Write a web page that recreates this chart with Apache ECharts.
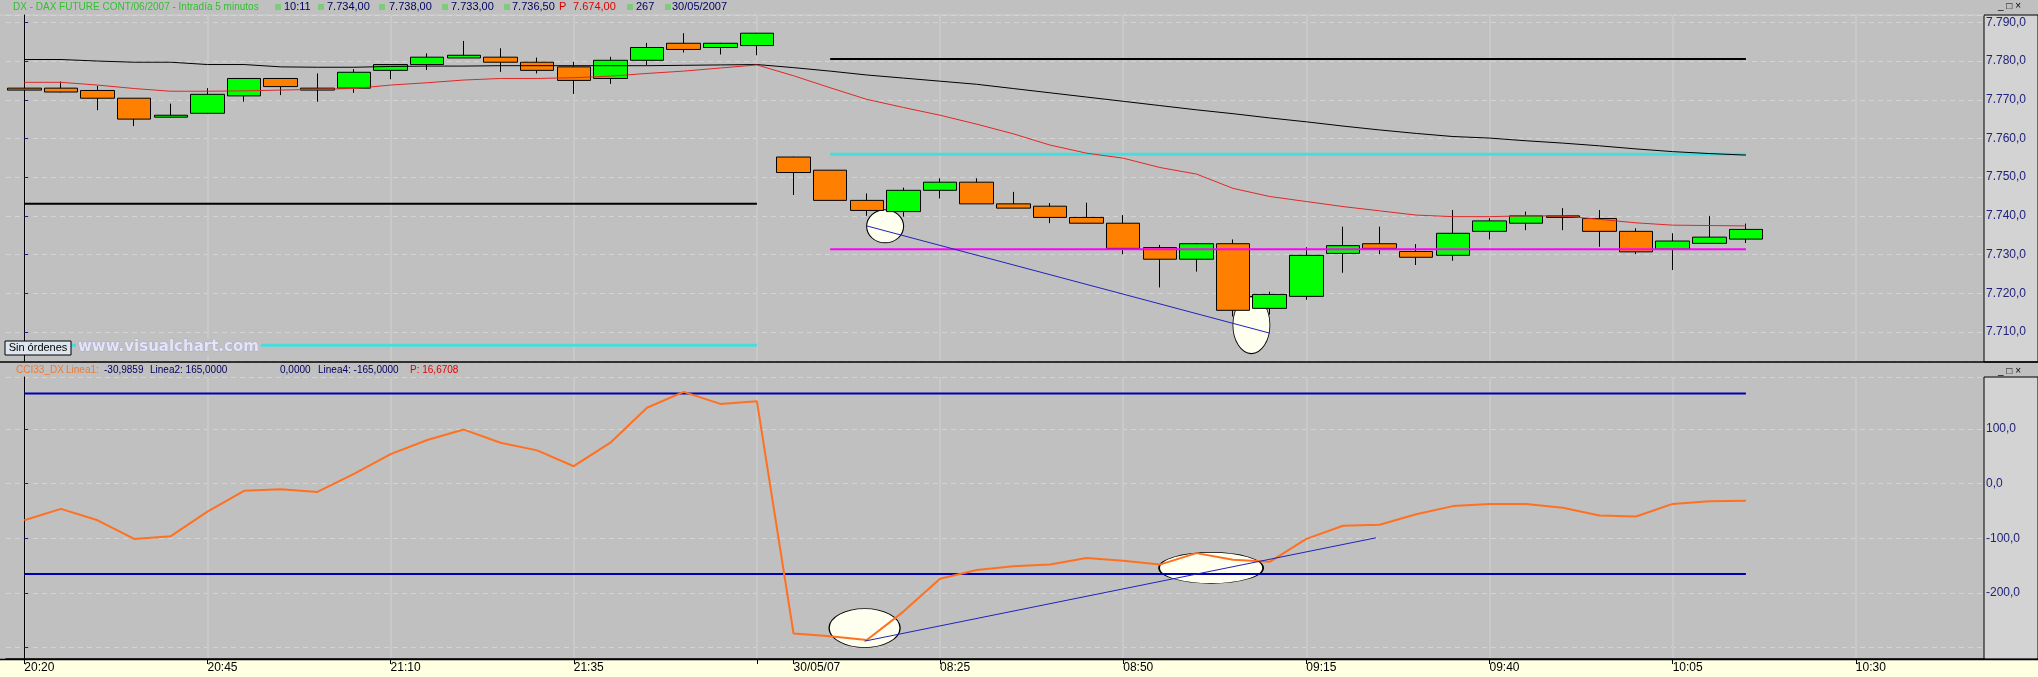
<!DOCTYPE html>
<html><head><meta charset="utf-8">
<script src="https://cdn.jsdelivr.net/npm/echarts@6/dist/echarts.min.js"></script>
<style>html,body{margin:0;padding:0;background:#c0c0c0}#c{width:2038px;height:677px}</style>
</head><body><div id="c"></div>
<script>
// ---------- DATA ----------
const times = ['20:20','20:25','20:30','20:35','20:40','20:45','20:50','20:55','21:00','21:05','21:10','21:15','21:20','21:25','21:30','21:35','21:40','21:45','21:50','21:55','22:00',
 '08:05','08:10','08:15','08:20','08:25','08:30','08:35','08:40','08:45','08:50','08:55','09:00','09:05','09:10','09:15','09:20','09:25','09:30','09:35','09:40','09:45','09:50','09:55','10:00','10:05','10:10','10:15','10:20','10:25','10:30','10:35','10:40','10:45'];
const dayStartIndex = 21;
const dayLabel = '30/05/07';
const labelIndices = [0,5,10,15,21,25,30,35,40,45,50];
const tickIndices = [0,5,10,15,20,21,25,30,35,40,45,50];
const gridIndices = [0,5,10,15,20,25,30,35,40,45,50];
const priceTickLabels = [7710,7720,7730,7740,7750,7760,7770,7780,7790];
const cciTickLabels = [-200,-100,0,100];

const opens  = [7773,7773,7772.4,7770.4,7765.5,7766.5,7771,7775.5,7773,7773,7777.6,7779.1,7780.8,7781,7779.7,7778.5,7775.5,7780.2,7784.6,7783.5,7784,
 7755.2,7751.8,7744,7741.1,7746.6,7748.7,7743.1,7742.5,7739.6,7738.1,7731.8,7728.8,7732.8,7716.1,7719.2,7730.3,7732.8,7730.8,7729.8,7736,7738.1,7740,7739.3,7736,7731.4,7732.9,7734];
const closes = [7772.5,7772,7770.4,7765,7766,7771.4,7775.5,7773.4,7772.5,7777.1,7779.1,7781,7781.5,7779.7,7777.6,7775,7780.2,7783.5,7783,7784.6,7787.2,
 7751.2,7744,7741.4,7746.6,7748.7,7743.1,7742,7739.6,7738.1,7731.6,7728.8,7732.8,7715.6,7719.7,7729.8,7732.3,7731.6,7729.3,7735.5,7738.7,7740,7739.6,7736,7730.7,7733.5,7734.5,7736.5];
const lows   = [7766,7771.9,7767.3,7763.2,7765.4,7766.3,7769.5,7771.2,7769.5,7771.8,7775.3,7777.7,7780.8,7777.2,7776.8,7771.5,7774.1,7779,7782.2,7781.7,7781.5,
 7745.4,7744,7740,7739.8,7744.5,7743.1,7742,7738.1,7738.1,7730.1,7721.5,7725.6,7714,7714.5,7718.3,7725.3,7730.1,7727.3,7728.4,7733.9,7736.3,7736.3,7732,7730.1,7726,7732.9,7733];
const highs  = [7774.5,7774.7,7773.6,7770.4,7769,7773,7775.6,7775.6,7776.8,7777.9,7779.2,7782,7785.2,7783.3,7780.9,7779.8,7781.1,7784.7,7787.2,7784.7,7787.3,
 7755.3,7751.8,7745.8,7747.3,7749.7,7749.7,7746.2,7743.3,7743.4,7740.2,7732.5,7733,7733.9,7720.4,7731.9,7737.2,7737.2,7732.7,7741.5,7739.4,7741.1,7742,7741.5,7736.8,7735.5,7740,7738];

const maRed = [7774.5,7774.5,7773.8,7772.9,7772.2,7772.2,7772.3,7772.5,7772.7,7772.9,7773.8,7774.4,7775.1,7775.5,7775.5,7775.7,7776.1,7776.8,7777.4,7778.2,7779.0,
 7776.2,7773.1,7770.1,7768.0,7766.0,7763.7,7761.2,7758.3,7756.2,7754.9,7752.5,7750.8,7747.1,7745.0,7743.7,7742.4,7741.3,7740.2,7739.8,7739.8,7740.0,7740.0,7739.1,7738.2,7737.6,7737.5,7737.4];
const maBlack = [7780.4,7780.4,7780.0,7779.7,7779.7,7779.1,7779.1,7778.5,7778.4,7778.4,7778.6,7778.7,7778.7,7778.8,7778.8,7778.8,7778.8,7778.8,7778.9,7779.0,7779.1,
 7778.3,7777.4,7776.4,7775.6,7774.8,7774.0,7772.9,7771.8,7770.7,7769.6,7768.5,7767.4,7766.4,7765.3,7764.3,7763.2,7762.2,7761.3,7760.5,7760.1,7759.4,7758.8,7758.1,7757.3,7756.6,7756.1,7755.7];

// horizontal levels: [fromIndex, toIndex, value]
const levelBlack1 = [0, 20, 7743.1];
const levelCyan1  = [0, 20, 7706.6];
const levelBlack2 = [22, 47, 7780.5];
const levelCyan2  = [22, 47, 7755.9];
const levelMag2   = [22, 47, 7731.4];

const cci = [-67,-46,-67,-101,-96,-51,-13,-10,-15,18,54,80,99,75,61,32,75,139,168,146,151,
 -274,-279,-286,-234,-174,-158,-151,-148,-136,-141,-148,-127,-139,-143,-101,-77,-75,-56,-41,-37,-37,-44,-58,-60,-37,-32,-31];
const cciLevels = [165, -165];
const cciLevelRange = [0, 47];

// annotations (x in bar index units): [x, y, width px, height px]
const topEllipses = [[23.5, 7737.3, 37, 33], [33.5, 7711.8, 37, 57]];
const topTrend = [[23.0, 7737.4], [34.0, 7709.7]];
const lowEllipses = [[22.94, -264, 71, 39], [32.4, -154, 104, 31]];
const lowTrend = [[22.94, -288], [36.9, -99]];

const lastPrice = 7736.5;
const lastCci = -31.0;

// ---------- CHART ----------
function fmtNum(v){ const neg=v<0; let p=Math.abs(v).toFixed(1).split('.'); let i=p[0].replace(/\B(?=(\d{3})+(?!\d))/g,'.'); return (neg?'-':'')+i+','+p[1]; }
const FONT = 'Liberation Sans';
const axisColor = '#22227a';

function catAxis(grid, showLabels){
  return {
    type:'category', gridIndex:grid, data:times, boundaryGap:true,
    axisLine:{show:showLabels, onZero:false, lineStyle:{color:'#000', width:1.5}},
    axisTick:{show:showLabels, interval:(i)=>tickIndices.includes(i), alignWithLabel:true, length:5, lineStyle:{color:'#000'}},
    axisLabel:{show:showLabels, interval:(i)=>labelIndices.includes(i), formatter:(v,i)=> i===dayStartIndex?dayLabel:v,
      align:'left', margin:3, fontSize:12, fontFamily:FONT, color:'#000'},
    splitLine:{show:true, interval:(i)=>gridIndices.includes(i), alignWithLabel:true, lineStyle:{color:'#c9c9c9', width:2}}
  };
}
function valAxis(grid){ return {type:'value', gridIndex:grid, min:-0.5, max:times.length-0.5, show:false}; }

const lineBase = {type:'line', symbol:'none', silent:true, animation:false};
function level(arr, color, width, z){ return Object.assign({}, lineBase, {xAxisIndex:0, yAxisIndex:0, data:[[arr[0],arr[2]],[arr[1],arr[2]]], lineStyle:{color, width}, z}); }
function yAx(grid, min, max, step, shown){
  return {type:'value', gridIndex:grid, position:'right', min, max, minInterval:step, maxInterval:step,
     axisLine:{show:true, lineStyle:{color:'#000'}}, axisTick:{show:true, length:4, lineStyle:{color:axisColor}},
     axisLabel:{formatter:(v)=> shown.includes(Math.round(v)) ? fmtNum(v) : '', showMinLabel:false, showMaxLabel:false, margin:2, fontSize:12, fontFamily:FONT, color:axisColor},
     splitLine:{show:true, lineStyle:{color:'#d4d4d4', type:[5,4], width:1}}};
}

const option = {
  animation:false,
  backgroundColor:'#c0c0c0',
  grid:[
    {left:6, right:54, top:15, height:346, outerBoundsMode:'none'},
    {left:6, right:54, top:377, height:282, outerBoundsMode:'none'}
  ],
  xAxis:[catAxis(0,false), catAxis(1,true), valAxis(0), valAxis(1)],
  yAxis:[ yAx(0, 7702.5, 7791.9, 10, priceTickLabels), yAx(1, -320.7, 195.2, 100, cciTickLabels) ],
  series:[
    {type:'scatter', xAxisIndex:2, yAxisIndex:0, silent:true, z:1,
     data: topEllipses.map(e=>({value:[e[0],e[1]], symbolSize:[e[2],e[3]]})),
     symbol:'circle', itemStyle:{color:'#fffff0', borderColor:'#000', borderWidth:1, opacity:1}},
    {type:'candlestick', xAxisIndex:0, yAxisIndex:0, barWidth:34, z:3, silent:true,
     data: opens.map((o,i)=>[o, closes[i], lows[i], highs[i]]),
     itemStyle:{color:'#00ff00', color0:'#ff8000', borderColor:'#000', borderColor0:'#000', borderWidth:1},
     markLine:{symbol:'none', silent:true, animation:false, data:[{yAxis:lastPrice}], lineStyle:{opacity:0},
       label:{position:'end', distance:5, formatter:()=>fmtNum(lastPrice), color:'#000', fontSize:12, fontFamily:FONT,
         backgroundColor:'#ffffc0', borderColor:'#000', borderWidth:1, padding:[1,2,0,2]}}},
    level(levelBlack1,'#000',2,4),
    level(levelCyan1,'#44dede',3,4),
    level(levelBlack2,'#000',2,4),
    level(levelCyan2,'#44dede',3,4),
    level(levelMag2,'#ff00ff',2,4),
    Object.assign({}, lineBase, {xAxisIndex:0, yAxisIndex:0, data:maBlack, lineStyle:{color:'#000', width:1}, z:5}),
    Object.assign({}, lineBase, {xAxisIndex:0, yAxisIndex:0, data:maRed, lineStyle:{color:'#e02828', width:1}, z:5}),
    Object.assign({}, lineBase, {xAxisIndex:2, yAxisIndex:0, data:topTrend, lineStyle:{color:'#2222bb', width:1}, z:6}),
    // lower panel
    {type:'scatter', xAxisIndex:3, yAxisIndex:1, silent:true, z:1,
     data: lowEllipses.map(e=>({value:[e[0],e[1]], symbolSize:[e[2],e[3]]})),
     symbol:'circle', itemStyle:{color:'#fffff0', borderColor:'#000', borderWidth:1, opacity:1}},
    ...cciLevels.map(v=>Object.assign({}, lineBase, {xAxisIndex:1, yAxisIndex:1, data:[[cciLevelRange[0],v],[cciLevelRange[1],v]], lineStyle:{color:'#0000b0', width:2}, z:3})),
    Object.assign({}, lineBase, {xAxisIndex:1, yAxisIndex:1, data:cci, lineStyle:{color:'#ff7020', width:2}, z:4,
     markLine:{symbol:'none', silent:true, animation:false, data:[{yAxis:lastCci}], lineStyle:{opacity:0},
       label:{position:'end', distance:5, formatter:()=>fmtNum(lastCci), color:'#000', fontSize:12, fontFamily:FONT,
         backgroundColor:'#ffffc0', borderColor:'#000', borderWidth:1, padding:[1,2,0,2]}}}),
    Object.assign({}, lineBase, {xAxisIndex:3, yAxisIndex:1, data:lowTrend, lineStyle:{color:'#2222bb', width:1}, z:5})
  ],
  graphic:[
    {type:'rect', z:-10, silent:true, shape:{x:1984, y:15, width:54, height:347}, style:{fill:'#d3d3d3', stroke:'#000', lineWidth:1}},
    {type:'rect', z:-10, silent:true, shape:{x:1984, y:377, width:54, height:282}, style:{fill:'#d3d3d3', stroke:'#000', lineWidth:1}},
    {type:'rect', z:-10, silent:true, shape:{x:0, y:659, width:2038, height:18}, style:{fill:'#ffffe1'}},
    {type:'line', z:20, silent:true, shape:{x1:0, y1:362, x2:2038, y2:362}, style:{stroke:'#000', lineWidth:1.5}},
    {type:'line', z:20, silent:true, shape:{x1:0, y1:659.5, x2:2038, y2:659.5}, style:{stroke:'#000', lineWidth:1.5}},
    {type:'line', z:-9, silent:true, shape:{x1:0, y1:15, x2:1984, y2:15}, style:{stroke:'#cfcfcf', lineWidth:1}},
    // top header
    {type:'text', z:20, x:13, y:7, style:{text:'DX - DAX FUTURE CONT/06/2007 - Intradía 5 minutos', fill:'#30c030', font:'10px '+FONT, verticalAlign:'middle'}},
    ...[275,318,379,442,504,627,665].map(x=>({type:'rect', z:20, shape:{x:x, y:4, width:6, height:6}, style:{fill:'#7ccc7c'}})),
    {type:'text', z:20, x:284, y:7, style:{text:'10:11', fill:'#000060', font:'11px '+FONT, verticalAlign:'middle'}},
    {type:'text', z:20, x:327, y:7, style:{text:'7.734,00', fill:'#000060', font:'11px '+FONT, verticalAlign:'middle'}},
    {type:'text', z:20, x:389, y:7, style:{text:'7.738,00', fill:'#000060', font:'11px '+FONT, verticalAlign:'middle'}},
    {type:'text', z:20, x:451, y:7, style:{text:'7.733,00', fill:'#000060', font:'11px '+FONT, verticalAlign:'middle'}},
    {type:'text', z:20, x:512, y:7, style:{text:'7.736,50', fill:'#000060', font:'11px '+FONT, verticalAlign:'middle'}},
    {type:'text', z:20, x:559, y:7, style:{text:'P', fill:'#e00000', font:'11px '+FONT, verticalAlign:'middle'}},
    {type:'text', z:20, x:573, y:7, style:{text:'7.674,00', fill:'#e00000', font:'11px '+FONT, verticalAlign:'middle'}},
    {type:'text', z:20, x:636, y:7, style:{text:'267', fill:'#000060', font:'11px '+FONT, verticalAlign:'middle'}},
    {type:'text', z:20, x:672, y:7, style:{text:'30/05/2007', fill:'#000060', font:'11px '+FONT, verticalAlign:'middle'}},
    {type:'text', z:20, x:1998, y:6, style:{text:'_ □ ×', fill:'#000', font:'10px '+FONT, verticalAlign:'middle'}},
    {type:'text', z:20, x:1998, y:371, style:{text:'_ □ ×', fill:'#000', font:'10px '+FONT, verticalAlign:'middle'}},
    // lower header
    {type:'text', z:20, x:16, y:370, style:{text:'CCI33_DX', fill:'#f07830', font:'10px '+FONT, verticalAlign:'middle'}},
    {type:'text', z:20, x:66, y:370, style:{text:'Linea1:', fill:'#f07830', font:'10px '+FONT, verticalAlign:'middle'}},
    {type:'text', z:20, x:104, y:370, style:{text:'-30,9859', fill:'#000060', font:'10px '+FONT, verticalAlign:'middle'}},
    {type:'text', z:20, x:150, y:370, style:{text:'Linea2: 165,0000', fill:'#000060', font:'10px '+FONT, verticalAlign:'middle'}},
    {type:'text', z:20, x:280, y:370, style:{text:'0,0000', fill:'#000060', font:'10px '+FONT, verticalAlign:'middle'}},
    {type:'text', z:20, x:318, y:370, style:{text:'Linea4: -165,0000', fill:'#000060', font:'10px '+FONT, verticalAlign:'middle'}},
    {type:'text', z:20, x:410, y:370, style:{text:'P: 16,6708', fill:'#e00000', font:'10px '+FONT, verticalAlign:'middle'}},
    // order box + watermark
    {type:'text', z:20, x:76, y:347, style:{text:'www.visualchart.com', fill:'#e4e4f6', stroke:'#9a9ac8', lineWidth:0.6, font:'bold 15px DejaVu Sans', verticalAlign:'middle', backgroundColor:'#c0c0c0', padding:[1,2]}},
    {type:'rect', z:20, shape:{x:5, y:341, width:66, height:14}, style:{fill:'#dde6ee', stroke:'#000', lineWidth:1}},
    {type:'text', z:21, x:38, y:348, style:{text:'Sin órdenes', fill:'#000', font:'11px '+FONT, align:'center', verticalAlign:'middle'}}
  ]
};
const chart = echarts.init(document.getElementById('c'), null, {renderer:'canvas', width:2038, height:677});
chart.setOption(option);
</script></body></html>
